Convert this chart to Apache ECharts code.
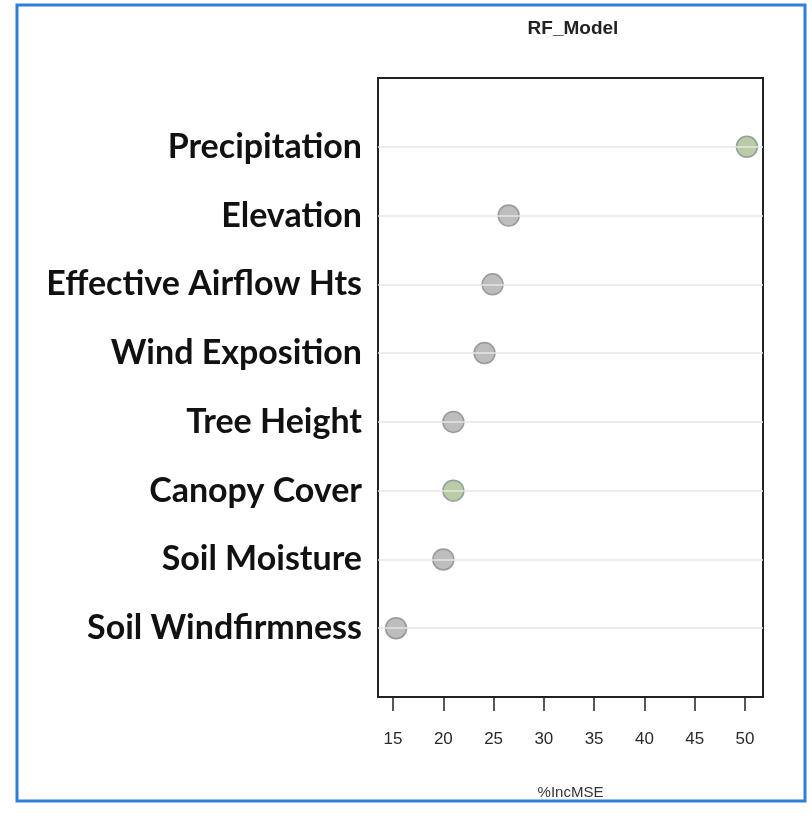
<!DOCTYPE html>
<html>
<head>
<meta charset="utf-8">
<script src="https://cdn.jsdelivr.net/npm/echarts@6/dist/echarts.min.js"></script>
<style>
  html, body { margin: 0; padding: 0; background: #fff; }
  #chart { width: 812px; height: 818px; }
</style>
</head>
<body>
<div id="chart"></div>
<script>
// Variable importance of the random forest model (%IncMSE), top to bottom
const variables = ['Precipitation', 'Elevation', 'Effective Airflow Hts', 'Wind Exposition',
                   'Tree Height', 'Canopy Cover', 'Soil Moisture', 'Soil Windfirmness'];
const incMSE = [50.2, 26.5, 24.9, 24.1, 21.0, 21.0, 20.0, 15.3];
const highlighted = ['Precipitation', 'Canopy Cover'];
const xTicks = [15, 20, 25, 30, 35, 40, 45, 50];

const chart = echarts.init(document.getElementById('chart'), null, { renderer: 'canvas' });

const points = variables.map((name, i) => ({
  value: [incMSE[i], i + 1],
  name: name,
  itemStyle: highlighted.includes(name)
    ? { color: '#a8bf8c', borderColor: '#7f8f96', borderWidth: 1.5 }
    : { color: '#adadad', borderColor: '#888888', borderWidth: 1.5 }
}));

// faint guide line across the panel for every variable row
const rowLines = variables.map((name, i) => ({ yAxis: i + 1 }));

chart.setOption({
  animation: false,
  backgroundColor: '#ffffff',
  title: {
    text: 'RF_Model',
    left: 568, top: 14, textAlign: 'center',
    textStyle: { fontFamily: 'Liberation Sans, Arial', fontWeight: 'bold', fontSize: 19, color: '#222' }
  },
  graphic: [{
    type: 'rect',
    shape: { x: 17, y: 5, width: 788, height: 796 },
    style: { fill: 'none', stroke: '#2f7fd6', lineWidth: 3 },
    silent: true
  }],
  grid: {
    left: 378, top: 78, width: 385, height: 619,
    show: true, borderColor: '#222', borderWidth: 2, backgroundColor: 'transparent'
  },
  xAxis: {
    type: 'value', min: 13.5, max: 51.8, position: 'bottom',
    name: '%IncMSE', nameLocation: 'middle', nameGap: 88,
    nameTextStyle: { fontFamily: 'Liberation Sans, Arial', fontSize: 15, color: '#333' },
    axisLine: { show: true, onZero: false, lineStyle: { color: '#222', width: 2 } },
    axisTick: { show: true, length: 14, inside: false, customValues: xTicks,
                lineStyle: { color: '#222', width: 1.5 } },
    axisLabel: { customValues: xTicks, margin: 34,
                 fontFamily: 'Liberation Sans, Arial', fontSize: 17, color: '#2a2a2a' },
    splitLine: { show: false }
  },
  yAxis: {
    type: 'value', inverse: true, min: 0, max: 9, interval: 1,
    axisLine: { show: false },
    axisTick: { show: false },
    axisLabel: {
      margin: 16,
      fontFamily: 'Lato, Noto Sans, sans-serif', fontWeight: 'bold', fontSize: 34, color: '#111',
      formatter: v => (v >= 1 && v <= variables.length) ? variables[v - 1] : ''
    },
    splitLine: { show: false }
  },
  series: [{
    type: 'scatter',
    symbol: 'circle',
    symbolSize: 21,
    z: 3,
    data: points,
    markLine: {
      silent: true, symbol: 'none', label: { show: false },
      lineStyle: { color: '#e6e6e6', width: 1.5, type: 'solid' },
      data: rowLines
    }
  }]
});
</script>
</body>
</html>
